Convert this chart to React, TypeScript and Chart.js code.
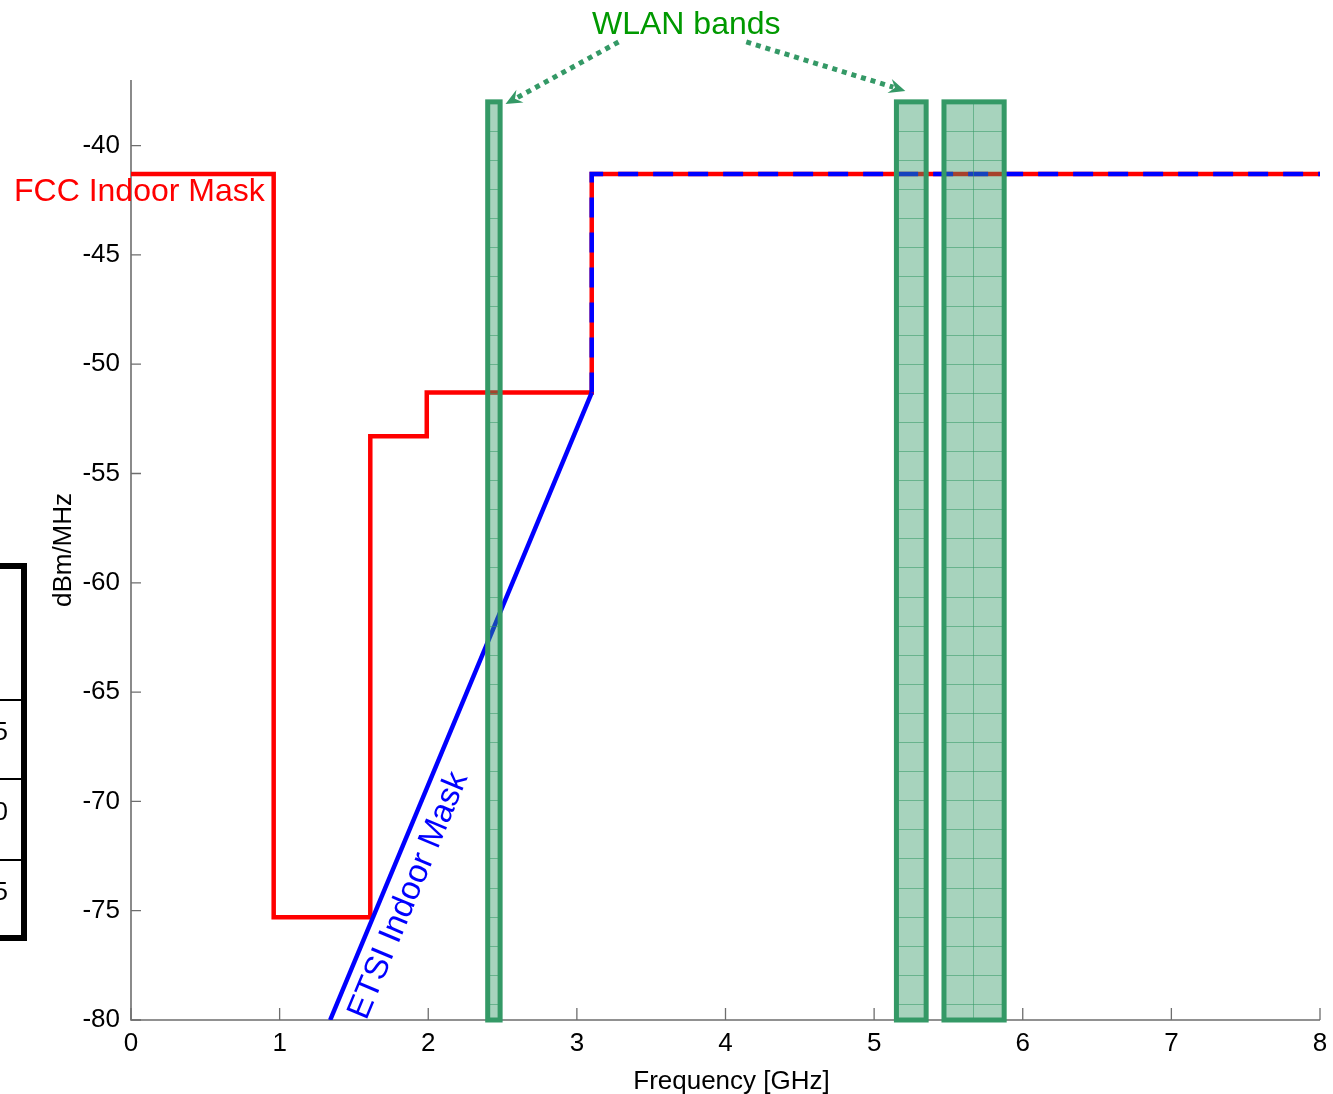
import { useEffect, useRef } from 'react';
import { Chart, registerables } from 'chart.js';

Chart.register(...registerables);

const FONT = '"Liberation Sans", Arial, Helvetica, sans-serif';

// Axis ticks
const xTicks = [0, 1, 2, 3, 4, 5, 6, 7, 8];
const yTicks = [-80, -75, -70, -65, -60, -55, -50, -45, -40];
const xMin = 0;
const xMax = 8;
const yMin = -80;
const yMax = -37;

// FCC indoor mask (GHz, dBm/MHz)
const fccFreq = [0, 0.96, 0.96, 1.61, 1.61, 1.99, 1.99, 3.1, 3.1, 8];
const fccLevel = [-41.3, -41.3, -75.3, -75.3, -53.3, -53.3, -51.3, -51.3, -41.3, -41.3];

// ETSI indoor mask
const etsiFreq = [1.34, 3.1, 3.1, 8];
const etsiLevel = [-80, -51.3, -41.3, -41.3];

// WLAN bands
const wlanStart = [2.4, 5.15, 5.47];
const wlanEnd = [2.4835, 5.35, 5.875];
const wlanTop = -38;

// Annotation arrows (tail -> tip), data units
const arrowTailX = [3.28, 4.14];
const arrowTailY = [-35.26, -35.26];
const arrowTipX = [2.52, 5.21];
const arrowTipY = [-38.1, -37.5];

const BAND_GREEN = 'rgb(52,153,102)';

const decorPlugin = {
  id: 'decor',
  beforeDatasetsDraw(chart: any) {
    const { ctx, chartArea: a, scales } = chart;
    const xs = scales.x;
    const ys = scales.y;
    ctx.save();
    ctx.strokeStyle = 'rgb(110,110,110)';
    ctx.lineWidth = 1.6;
    ctx.beginPath();
    ctx.moveTo(a.left, a.top);
    ctx.lineTo(a.left, a.bottom);
    ctx.lineTo(a.right, a.bottom);
    ctx.stroke();
    ctx.lineWidth = 1.3;
    ctx.beginPath();
    for (const v of xTicks) {
      const px = xs.getPixelForValue(v);
      ctx.moveTo(px, a.bottom);
      ctx.lineTo(px, a.bottom - 12);
    }
    for (const v of yTicks) {
      const py = ys.getPixelForValue(v);
      ctx.moveTo(a.left, py);
      ctx.lineTo(a.left + 10, py);
    }
    ctx.stroke();
    ctx.restore();
  },
  afterDatasetsDraw(chart: any) {
    const { ctx, chartArea: a, scales } = chart;
    const xs = scales.x;
    const ys = scales.y;
    ctx.save();
    // WLAN bands
    const yT = ys.getPixelForValue(wlanTop);
    const yB = ys.getPixelForValue(yMin);
    for (let i = 0; i < wlanStart.length; i++) {
      const x0 = xs.getPixelForValue(wlanStart[i]);
      const x1 = xs.getPixelForValue(wlanEnd[i]);
      ctx.fillStyle = 'rgba(52,153,102,0.43)';
      ctx.fillRect(x0, yT, x1 - x0, yB - yT);
      ctx.save();
      ctx.beginPath();
      ctx.rect(x0, yT, x1 - x0, yB - yT);
      ctx.clip();
      ctx.strokeStyle = 'rgba(52,153,102,0.55)';
      ctx.lineWidth = 1;
      ctx.beginPath();
      for (let y = yT + 29.1; y < yB; y += 29.1) {
        ctx.moveTo(x0, Math.round(y) + 0.5);
        ctx.lineTo(x1, Math.round(y) + 0.5);
      }
      for (let x = x0 + 29.5; x < x1 - 4; x += 29.5) {
        ctx.moveTo(Math.round(x) + 0.5, yT);
        ctx.lineTo(Math.round(x) + 0.5, yB);
      }
      ctx.stroke();
      ctx.restore();
      ctx.strokeStyle = BAND_GREEN;
      ctx.lineWidth = 5;
      ctx.lineJoin = 'miter';
      ctx.strokeRect(x0, yT, x1 - x0, yB - yT);
    }

    // arrows
    for (let i = 0; i < arrowTailX.length; i++) {
      const tx = xs.getPixelForValue(arrowTailX[i]);
      const ty = ys.getPixelForValue(arrowTailY[i]);
      const hx = xs.getPixelForValue(arrowTipX[i]);
      const hy = ys.getPixelForValue(arrowTipY[i]);
      const ang = Math.atan2(hy - ty, hx - tx);
      const headLen = 18;
      const ex = hx - Math.cos(ang) * headLen * 0.7;
      const ey = hy - Math.sin(ang) * headLen * 0.7;
      ctx.strokeStyle = BAND_GREEN;
      ctx.lineWidth = 5;
      ctx.lineCap = 'butt';
      ctx.setLineDash([5, 5]);
      ctx.beginPath();
      ctx.moveTo(tx, ty);
      ctx.lineTo(ex, ey);
      ctx.stroke();
      ctx.setLineDash([]);
      ctx.fillStyle = BAND_GREEN;
      ctx.beginPath();
      ctx.moveTo(hx, hy);
      ctx.lineTo(hx - headLen * Math.cos(ang - 0.42), hy - headLen * Math.sin(ang - 0.42));
      ctx.lineTo(hx - headLen * 0.6 * Math.cos(ang), hy - headLen * 0.6 * Math.sin(ang));
      ctx.lineTo(hx - headLen * Math.cos(ang + 0.42), hy - headLen * Math.sin(ang + 0.42));
      ctx.closePath();
      ctx.fill();
    }

    // texts
    ctx.font = `32px ${FONT}`;
    ctx.textBaseline = 'alphabetic';
    ctx.textAlign = 'left';
    ctx.fillStyle = 'rgb(255,0,0)';
    ctx.fillText('FCC Indoor Mask', 14, 201);
    ctx.fillStyle = 'rgb(0,153,0)';
    ctx.fillText('WLAN bands', 592, 34);

    // ETSI label along the slope
    const p0x = xs.getPixelForValue(etsiFreq[0]);
    const p0y = ys.getPixelForValue(etsiLevel[0]);
    const p1x = xs.getPixelForValue(etsiFreq[1]);
    const p1y = ys.getPixelForValue(etsiLevel[1]);
    const slope = Math.atan2(p1y - p0y, p1x - p0x);
    ctx.save();
    ctx.translate(p0x + 36, p0y + 1);
    ctx.rotate(slope);
    ctx.fillStyle = 'rgb(0,0,255)';
    ctx.font = `33px ${FONT}`;
    ctx.fillText('ETSI Indoor Mask', 0, 0);
    ctx.restore();

    // axis titles
    ctx.fillStyle = '#000';
    ctx.font = `26px ${FONT}`;
    ctx.textAlign = 'center';
    ctx.fillText('Frequency [GHz]', (a.left + a.right) / 2 + 6, 1089);
    ctx.save();
    ctx.translate(71, 550);
    ctx.rotate(-Math.PI / 2);
    ctx.fillText('dBm/MHz', 0, 0);
    ctx.restore();
    ctx.restore();
  },
  afterDraw(chart: any) {
    const { ctx } = chart;
    ctx.save();
    // partial neighbouring table at the left page edge
    ctx.strokeStyle = '#000';
    ctx.lineWidth = 6;
    ctx.strokeRect(-20, 566, 44, 372);
    ctx.lineWidth = 2;
    ctx.beginPath();
    for (const y of [700, 779, 860]) {
      ctx.moveTo(0, y);
      ctx.lineTo(21, y);
    }
    ctx.stroke();
    ctx.fillStyle = '#000';
    ctx.font = `26px ${FONT}`;
    ctx.textAlign = 'right';
    ctx.textBaseline = 'alphabetic';
    ctx.fillText('5', 8, 740);
    ctx.fillText('0', 8, 820);
    ctx.fillText('5', 8, 900);
    ctx.restore();
  },
};

export default function App() {
  const ref = useRef<HTMLCanvasElement>(null);
  useEffect(() => {
    if (!ref.current) return;
    const chart = new Chart(ref.current, {
      type: 'line',
      data: {
        datasets: [
          {
            label: 'ETSI Indoor Mask',
            data: etsiFreq.map((f, i) => ({ x: f, y: etsiLevel[i] })),
            borderColor: 'rgb(0,0,255)',
            borderWidth: 4.5,
            pointRadius: 0,
            fill: false,
            tension: 0,
            borderJoinStyle: 'miter',
            segment: {
              borderDash: (c: any) => (c.p0DataIndex >= 1 ? [20, 15] : []),
            },
          } as any,
          {
            label: 'FCC Indoor Mask',
            data: fccFreq.map((f, i) => ({ x: f, y: fccLevel[i] })),
            borderColor: 'rgb(255,0,0)',
            borderWidth: 4.5,
            pointRadius: 0,
            fill: false,
            tension: 0,
            borderJoinStyle: 'miter',
          },
        ],
      },
      options: {
        responsive: false,
        maintainAspectRatio: false,
        animation: false,
        events: [],
        layout: { padding: { top: 80, right: 13, left: 0, bottom: 0 } },
        plugins: { legend: { display: false }, tooltip: { enabled: false } },
        scales: {
          x: {
            type: 'linear',
            min: xMin,
            max: xMax,
            afterBuildTicks: (s: any) => {
              s.ticks = xTicks.map((v) => ({ value: v }));
            },
            afterFit: (s: any) => {
              s.height = 74;
              s.paddingLeft = 0;
              s.paddingRight = 0;
            },
            grid: { display: false, drawTicks: false },
            border: { display: false },
            ticks: {
              font: { family: FONT, size: 26 },
              color: '#000',
              padding: 8,
              maxRotation: 0,
              autoSkip: false,
            },
          },
          y: {
            type: 'linear',
            min: yMin,
            max: yMax,
            afterBuildTicks: (s: any) => {
              s.ticks = yTicks.map((v) => ({ value: v }));
            },
            afterFit: (s: any) => {
              s.width = 131;
              s.paddingTop = 0;
              s.paddingBottom = 0;
            },
            grid: { display: false, drawTicks: false },
            border: { display: false },
            ticks: {
              font: { family: FONT, size: 26 },
              color: '#000',
              padding: 11,
              autoSkip: false,
            },
          },
        },
      } as any,
      plugins: [decorPlugin],
    });
    return () => chart.destroy();
  }, []);
  return (
    <div style={{ position: 'fixed', left: 0, top: 0, width: 1333, height: 1094, background: '#fff' }}>
      <canvas ref={ref} width={1333} height={1094} style={{ display: 'block', width: 1333, height: 1094 }} />
    </div>
  );
}
